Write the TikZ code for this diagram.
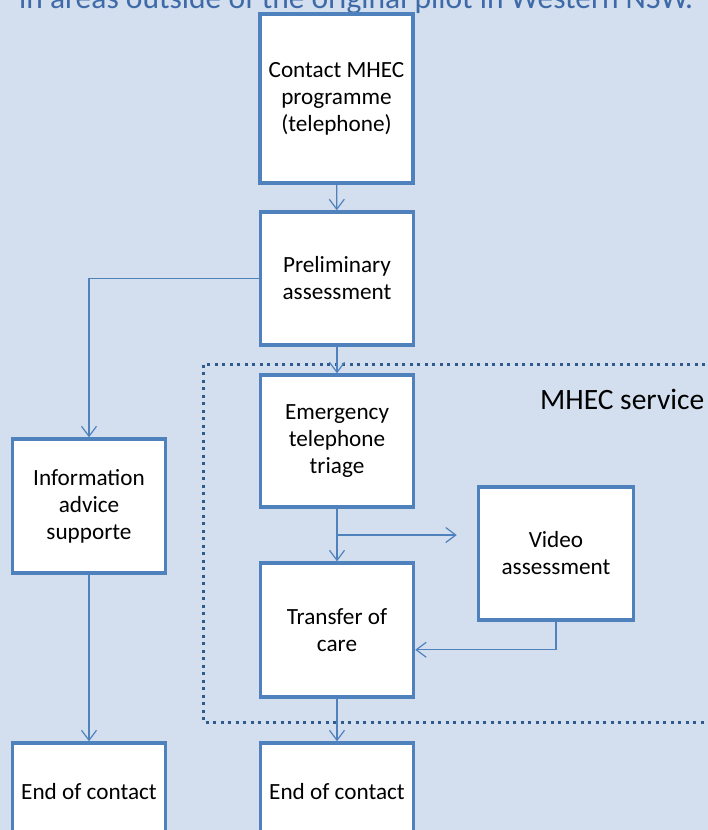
\documentclass[tikz,border=0pt]{standalone}
\usepackage{fontspec}
\setmainfont{Carlito}
\usetikzlibrary{arrows.meta,calc}
\definecolor{bgc}{HTML}{D3DFEE}
\definecolor{boxc}{HTML}{4F81BD}
\definecolor{dotc}{HTML}{2F5A8E}
\definecolor{titc}{HTML}{3E6AA8}
\begin{document}
\begin{tikzpicture}[x=1pt,y=-1pt,
 box/.style={draw=boxc, line width=3.5pt, fill=white, minimum width=153pt, inner sep=0pt, align=center, font=\fontsize{23.2}{27}\selectfont, text=black},
 conn/.style={draw=boxc, line width=1.2pt},
 arr/.style={conn, -{Straight Barb[length=10pt,width=15pt,line width=1.2pt]}}]
\useasboundingbox (0,0) rectangle (708,830);
\clip (0,0) rectangle (708,830);
\fill[bgc] (0,0) rectangle (708,830);
\node[anchor=base west, text=titc, font=\fontsize{31.5}{37}\selectfont, inner sep=0pt] (title) at (19,8) {in areas outside of the original pilot in Western NSW.};
\draw[dotc, line width=3pt, dash pattern=on 3pt off 4.5pt] (720,364) -- (203,364) -- (203,722) -- (720,722);
\node[anchor=base west, font=\fontsize{29.5}{35}\selectfont, inner sep=0pt] (svc) at (540,409) {MHEC service};
\node[box, minimum height=169pt] (contact) at (336.5,98.5) {Contact MHEC\\programme\\(telephone)};
\node[box, minimum height=133pt] (prelim) at (337,278.5) {Preliminary\\assessment};
\node[box, minimum height=132pt] (emerg) at (337,441) {Emergency\\telephone\\triage};
\node[box, minimum height=134pt] (transfer) at (337,630) {Transfer of\\care};
\node[box, minimum width=155pt, minimum height=133pt] (video) at (556,553.5) {Video\\assessment};
\node[box, minimum height=134pt] (info) at (89,506) {Information\\advice\\supporte};
\node[box, minimum height=98pt] (end1) at (89,792) {End of contact};
\node[box, minimum height=98pt] (end2) at (337,792) {End of contact};
\draw[arr] (contact) -- (prelim);
\draw[arr] (prelim.west) -| (info.north);
\draw[arr] (prelim) -- (emerg);
\draw[arr] (emerg) -- (transfer);
\coordinate (br) at ($(emerg.south)!0.5!(transfer.north)$);
\coordinate (vt) at ($(video.west |- br)+(-20,0)$);
\draw[arr] (br) -- (vt);
\coordinate (vb) at ($(video.south)+(0,28)$);
\draw[arr] (video.south) -- (vb) -- (transfer.east |- vb);
\draw[arr] (info) -- (end1);
\draw[arr] (transfer) -- (end2);
\end{tikzpicture}
\end{document}
